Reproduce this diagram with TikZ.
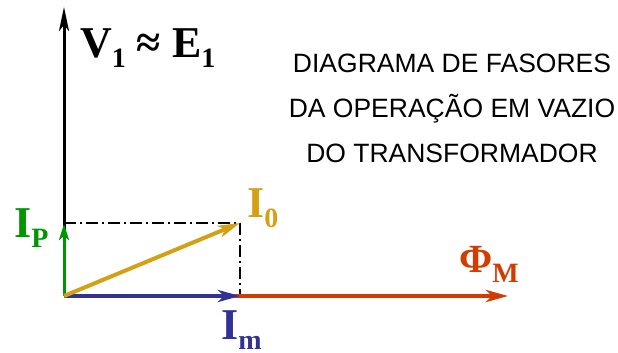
\documentclass[tikz,border=0pt]{standalone}
\usepackage{fontspec}
\setmainfont{Liberation Serif}
\newfontfamily\sansf{Liberation Sans}
\usetikzlibrary{arrows.meta}
\definecolor{cgreen}{RGB}{0,150,0}
\definecolor{cgold}{RGB}{212,160,20}
\definecolor{cblue}{RGB}{50,50,150}
\definecolor{cred}{RGB}{210,60,0}
\newcommand{\mysub}[1]{\raisebox{-10pt}{\fontsize{28}{30}\selectfont #1}}
\tikzset{
  lbl/.style={inner sep=0pt, anchor=base west, font=\fontsize{44}{46}\selectfont\bfseries},
  tip/.style={-{Stealth[length=22pt,width=12pt,inset=6pt]}},
  dd/.style={line width=1.4pt, dash pattern=on 12pt off 4pt on 2pt off 4pt},
}
\begin{document}
\begin{tikzpicture}[x=1pt,y=-1pt]
\useasboundingbox (0,0) rectangle (618,353);
\coordinate (O) at (64,296);
\coordinate (Vt) at (64,7);
\coordinate (Ip) at (64,224);
\coordinate (I0) at (240,223);
\coordinate (Im) at (240,296);
\coordinate (Phi) at (508,296);
\coordinate (Ipc) at (64,223);
% dash-dot projections
\draw[dd] (Ipc) -- (I0);
\draw[dd] (I0) -- (Im);
% V1 axis
\draw[line width=3pt, -{Stealth[length=24pt,width=10pt,inset=6pt]}] (O) -- (Vt);
% flux
\draw[cred, line width=4pt, tip] (O) -- (Phi);
% Im
\draw[cblue, line width=4pt, tip] (O) -- (Im);
% Ip
\draw[cgreen, line width=3pt, -{Stealth[length=16pt,width=10pt,inset=4pt]}] (O) -- (Ip);
% I0
\draw[cgold, line width=4pt, tip] (O) -- (I0);
% labels
\node[lbl] (lV) at (80,57) {V\mysub{1} ≈ E\mysub{1}};
\node[lbl, text=cgreen] (lIp) at (14,237) {I\mysub{P}};
\node[lbl, text=cgold] (lI0) at (247,217) {I\mysub{0}};
\node[lbl, text=cblue] (lIm) at (221,339) {I\mysub{m}};
\node[lbl, text=cred, font=\fontsize{40}{42}\selectfont\bfseries] (lPhi) at (459,272) {Φ\mysub{M}};
\node[inner sep=0pt, align=center, font=\sansf\fontsize{26.5}{45}\selectfont, anchor=base] (title) at (452,162) {DIAGRAMA DE FASORES\\DA OPERAÇÃO EM VAZIO\\DO TRANSFORMADOR};
\end{tikzpicture}
\end{document}
